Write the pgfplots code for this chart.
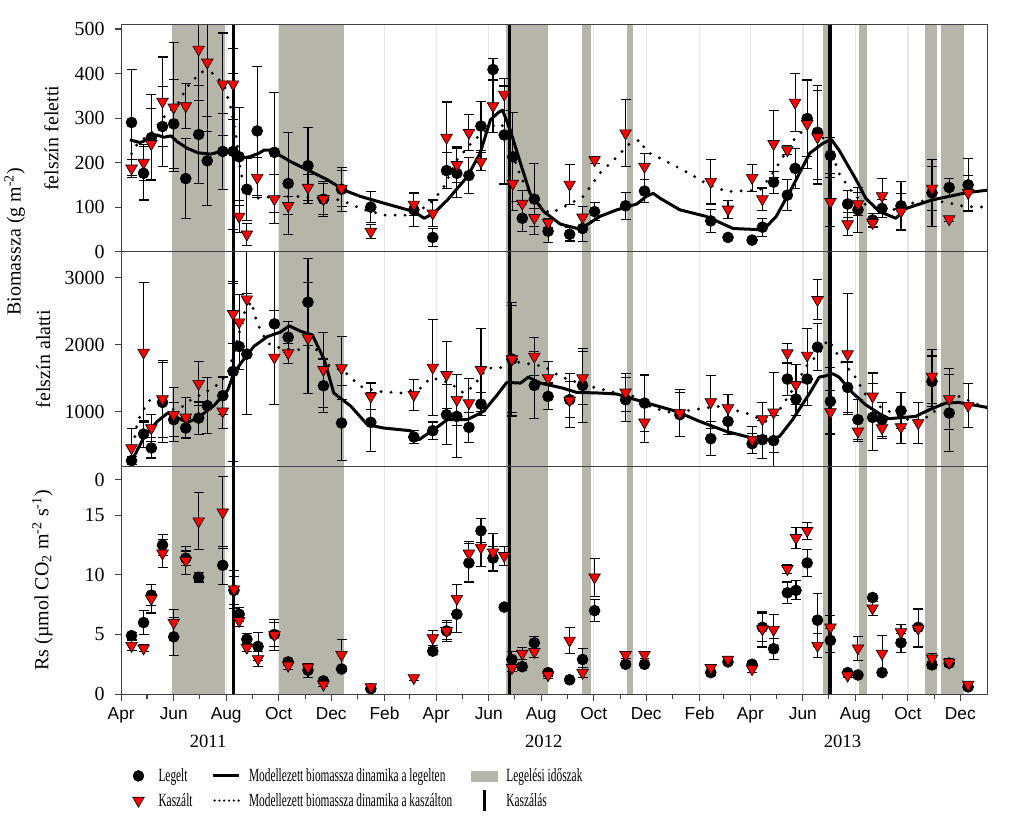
\documentclass[border=0pt]{standalone}
\usepackage{fontspec}
\setmainfont{Liberation Serif}
\newfontfamily\arialf{Liberation Sans}
\newfontfamily\legfont[FakeStretch=0.61]{Liberation Serif}
\usepackage{pgfplots}
\usepackage{pgfplotstable}
\pgfplotsset{compat=1.18}
\definecolor{graze}{RGB}{181,181,170}

\pgfplotsset{
  /pgfplots/layers/mylayers/.define layer set={
    axis background,axis grid,main,axis ticks,axis lines,axis tick labels,
    axis descriptions,axis foreground
  }{/pgfplots/layers/standard},
}
\tikzset{sidelab/.style={rotate=90, anchor=center, font=\fontsize{15}{17}\selectfont}}

% ---------------- data ----------------
% day = days since 1 April 2011
\pgfplotstableread{
d   L    Le   K    Ke
12  290  120  187  20
26  176  60   200  40
35  256  97   242  80
48  281  90   337  100
61  287  100  324  145
75  164  90   327  50
90  263  110  454  115
100 204  100  425  155
118 225  85   376  115
130 225  175  376  80
137 213  110  79   35
146 140  70   39   25
158 271  145  166  45
178 223  135  118  55
194 153  115  103  20
217 193  85   144  30
235 118  40   118  35
256 140  50   142  40
290 100  35   45   15
340 94   38   106  25
362 32   20   86   30
378 182  40   256  80
390 176  55   195  40
404 171  40   267  40
418 282  55   202  20
432 409  25   327  60
445 262  110  353  35
455 213  100  153  60
466 75   30   108  30
480 118  80   76   20
496 46   25   65   10
521 39   15   151  45
536 52   30   77   25
550 90   20   206  8
586 103  30   266  75
608 136  25   191  30
685 69   25   157  50
705 32   5    95   20
733 26   5    166  30
745 55   20   118  25
758 156  25   242  75
774 127  35   228  10
783 187  45   335  65
797 299  85   287  100
809 268  105  257  105
824 216  40   112  55
844 107  30   62   25
856 94   50   107  25
873 71   15   65   10
884 97   20   125  40
906 103  55   90   40
942 132  75   142  50
962 144  20   73   5
984 150  60   132  40
}\tabA

\pgfplotstableread{
d   L    Le   K    Ke
12  269  60   458  290
26  667  200  1886 1040
35  458  150  756  200
48  1139 600  1189 570
61  881  250  955  400
75  756  150  915  300
90  905  240  1418 330
100 1090 420  nan  nan
118 1239 280  1005 260
130 1602 1350 2463 450
137 1975 350  2338 420
146 1861 900  2682 850
178 2313 1200 1811 700
194 2114 230  1876 150
217 2637 650  2100 830
235 1388 400  1627 560
256 831  560  1652 470
290 841  440  1229 200
340 622  100  1254 230
362 716  130  1662 720
378 955  450  1552 500
390 930  620  1179 380
404 766  220  1129 370
418 1114 170  1627 620
454 1786 850  1786 800
480 1393 500  1826 280
496 1229 200  1502 250
521 1179 270  1169 400
536 1393 550  1502 400
586 1179 330  1289 280
608 1129 420  841  300
649 955  330  980  350
685 597  250  1144 400
705 856  200  1055 200
733 522  150  582  200
745 582  280  891  250
758 567  380  990  600
774 1488 250  1876 150
784 1189 250  1403 300
797 1488 400  1841 400
809 1965 350  2672 300
824 1154 500  995  320
844 1363 380  1861 900
856 881  300  706  150
873 915  500  1229 350
884 881  250  756  150
906 1015 270  771  250
926 nan  nan  831  300
942 1453 380  1527 400
962 980  580  1189 450
984 nan  nan  1090 330
}\tabB

\pgfplotstableread{
d   L    Le   K     Ke
12  4.9  0.3  4.06  0.4
26  6.0  1.0  3.84  0.3
35  8.3  0.9  8.0   1.2
48  12.5 0.9  11.8  1.2
61  4.8  1.6  6.0   1.1
75  11.4 0.6  11.2  1.2
90  9.8  0.4  14.5  2.4
118 10.8 1.6  15.25 3.0
131 8.7  1.2  8.8   1.6
137 6.7  0.6  6.15  0.5
146 4.6  0.5  3.9   0.3
159 4.0  1.2  2.95  0.6
178 5.0  1.0  4.95  1.3
194 2.7  0.3  2.4   0.3
217 2.0  0.6  2.25  0.3
235 1.1  0.2  0.8   0.2
256 2.1  0.2  3.3   1.3
290 0.45 0.2  0.6   0.2
340 nan  nan  1.35  0.2
362 3.6  0.3  4.7   0.6
378 5.3  0.7  5.3   0.9
390 6.7  1.5  8.0   1.2
404 11.0 1.6  11.8  1.0
418 13.7 1.0  12.3  1.6
432 11.4 1.0  11.9  1.6
445 7.3  0.2  11.6  0.8
454 2.9  0.7  2.2   0.3
466 2.3  0.3  3.4   0.5
480 4.3  0.5  3.55  0.5
496 1.8  0.3  1.6   0.3
521 1.2  0.1  4.5   1.1
536 2.9  0.9  1.8   0.4
550 7.0  0.9  9.8   1.6
586 2.5  0.2  3.3   0.3
608 2.5  0.2  3.3   0.3
685 1.8  0.2  2.2   0.3
705 2.7  0.2  2.9   0.2
733 2.5  0.2  2.1   0.3
745 5.6  1.2  5.45  1.5
758 3.8  0.9  5.4   1.3
774 8.5  0.9  10.5  0.4
784 8.7  0.8  13.1  0.9
797 11.0 1.1  13.7  0.7
809 6.2  2.2  4.06  1.0
824 4.5  1.0  5.6   1.0
844 1.8  0.2  1.56  0.2
856 1.6  0.2  3.84  1.0
873 8.1  0.2  7.2   0.6
884 1.8  0.2  3.4   1.5
906 4.3  0.8  5.2   0.6
926 5.6  1.6  5.5   1.6
942 2.45 0.3  3.0   0.4
962 2.6  0.2  2.65  0.3
984 0.6  0.2  0.8   0.2
}\tabC

% model lines
\pgfplotstableread{
d v
10 251
22 245
30 251
41 262
50 257
58 260
65 247
77 232
89 222
104 219
116 225
130 222
139 210
149 213
160 221
166 228
176 228
182 219
197 202
217 183
240 161
259 138
278 124
305 109
340 90
352 75
363 86
379 116
402 168
417 221
429 296
438 312
443 318
452 273
464 198
475 131
491 90
510 62
530 52
541 60
556 79
576 94
599 107
610 124
618 131
626 120
649 94
680 79
711 52
746 49
761 79
780 146
800 221
815 243
825 252
834 228
854 161
865 120
881 90
900 75
912 97
942 116
981 132
1006 138
}\modAs

\pgfplotstableread{
d v
12 220
19 243
35 266
50 303
66 333
77 371
93 404
108 400
120 371
127 326
133 266
139 176
147 131
158 120
181 124
208 124
231 120
255 116
278 97
305 82
332 82
348 94
363 116
375 146
390 206
410 251
425 273
437 288
445 281
452 236
464 168
479 116
498 86
517 103
537 124
556 176
576 213
591 243
603 251
610 225
630 206
653 183
680 153
703 135
742 138
757 176
769 213
784 258
800 284
810 269
823 236
834 176
850 131
865 105
885 94
904 95
923 112
942 116
962 109
981 101
1006 100
}\modAd

\pgfplotstableread{
d v
12 259
27 632
42 856
54 980
66 905
77 841
89 905
108 1095
124 1328
131 1577
139 1726
154 1975
170 2124
185 2189
195 2284
209 2199
222 2149
236 1776
247 1279
267 1080
286 806
305 756
336 716
346 582
363 731
379 881
402 881
421 1005
437 1254
448 1438
464 1428
473 1517
487 1428
513 1353
529 1289
556 1279
576 1264
607 1144
645 1005
672 856
703 706
733 607
753 582
765 632
780 881
800 1279
811 1517
819 1537
827 1567
834 1517
850 1279
865 1104
881 970
892 896
923 930
939 1030
958 1129
973 1139
1006 1065
}\modBs

\pgfplotstableread{
d v
12 333
19 856
31 1154
42 1229
58 1030
69 1055
81 1179
96 1279
112 1403
124 1577
131 1876
143 2473
151 2647
158 2323
170 2025
185 1950
209 1925
224 1975
240 1702
259 1602
278 1378
298 1304
325 1279
348 1353
359 1502
371 1478
382 1428
398 1279
409 1378
425 1652
440 1652
452 1751
464 1736
491 1677
510 1527
537 1403
568 1304
595 1229
618 1055
641 980
664 1030
695 1080
726 980
749 856
765 1030
780 1328
796 1677
811 1876
821 2075
827 1975
838 1726
850 1577
865 1254
881 1080
896 980
919 856
939 930
958 1179
973 1229
1006 1055
}\modBd

\newcommand{\grazing}[2]{%
  \addplot[forget plot, fill=graze, draw=none] coordinates {(58.8,#1) (120.7,#1) (120.7,#2) (58.8,#2)} -- cycle;
  \addplot[forget plot, fill=graze, draw=none] coordinates {(183.3,#1) (259,#1) (259,#2) (183.3,#2)} -- cycle;
  \addplot[forget plot, fill=graze, draw=none] coordinates {(446.7,#1) (495.5,#1) (495.5,#2) (446.7,#2)} -- cycle;
  \addplot[forget plot, fill=graze, draw=none] coordinates {(535,#1) (545.4,#1) (545.4,#2) (535,#2)} -- cycle;
  \addplot[forget plot, fill=graze, draw=none] coordinates {(588,#1) (594.5,#1) (594.5,#2) (588,#2)} -- cycle;
  \addplot[forget plot, fill=graze, draw=none] coordinates {(815.4,#1) (822.7,#1) (822.7,#2) (815.4,#2)} -- cycle;
  \addplot[forget plot, fill=graze, draw=none] coordinates {(856.7,#1) (867,#1) (867,#2) (856.7,#2)} -- cycle;
  \addplot[forget plot, fill=graze, draw=none] coordinates {(934,#1) (948.4,#1) (948.4,#2) (934,#2)} -- cycle;
  \addplot[forget plot, fill=graze, draw=none] coordinates {(952.7,#1) (979.4,#1) (979.4,#2) (952.7,#2)} -- cycle;
}
\newcommand{\mowing}[2]{%
  \addplot[forget plot, black, line width=2.3pt] coordinates {(130.8,#1) (130.8,#2)};
  \addplot[forget plot, black, line width=2.3pt] coordinates {(450.8,#1) (450.8,#2)};
  \addplot[forget plot, black, line width=2.3pt] coordinates {(823.5,#1) (823.5,#2)};
}

\pgfplotsset{
  panel/.style={
    set layers=mylayers,
    scale only axis, width=650.25pt,
    xmin=0, xmax=1006, clip mode=individual,
    axis line style={black!75, line width=0.8pt},
    tick style={black!75, line width=0.8pt},
    tick align=outside, ytick pos=left, xtick pos=bottom,
    major tick length=5pt, minor tick length=4pt,
    xtick={0,61,122,183,244,306,366,427,488,549,610,672,731,792,853,914,975},
    xmajorgrids, major grid style={black!9, line width=1pt},
    /pgf/number format/assume math mode=true,
    /pgf/number format/1000 sep={},
    yticklabel style={font=\fontsize{15}{17}\selectfont, xshift=-4pt},
  },
  legpt/.style={forget plot, only marks, mark=*, mark size=4.1pt, black,
    mark options={fill=black, draw=black, line width=0.5pt},
    error bars/.cd, y dir=both, y explicit,
    error bar style={line width=0.8pt, black},
    error mark options={rotate=90, mark size=3.75pt, line width=0.8pt, black}},
  kaspt/.style={forget plot, only marks, mark=triangle*, mark size=5pt, black,
    mark options={rotate=180, fill=red, draw=black, line width=0.5pt},
    error bars/.cd, y dir=both, y explicit,
    error bar style={line width=0.8pt, black},
    error mark options={rotate=90, mark size=3.75pt, line width=0.8pt, black}},
  mods/.style={forget plot, no marks, black, line width=2.25pt, line join=round},
  modd/.style={forget plot, no marks, black, line width=2.4pt, line cap=round, dash pattern=on 0pt off 7.5pt},
}

\begin{document}
\begin{tikzpicture}

% ---------- panel 1 ----------
\begin{axis}[panel,
  at={(90pt,-18.75pt)}, anchor=north west, height=170.25pt,
  ymin=0, ymax=509, ytick={0,100,200,300,400,500},
  xticklabels={}, every major x tick/.append style={draw=none},
]
\grazing{-20}{600}
\mowing{-20}{600}
\addplot[mods] table[x=d,y=v] {\modAs};
\addplot[modd] table[x=d,y=v] {\modAd};
\addplot[legpt] table[x=d,y=L,y error=Le] {\tabA};
\addplot[kaspt] table[x=d,y=K,y error=Ke] {\tabA};
\node[sidelab] at (axis description cs:-0.0807,0.5) {felszín feletti};
\node[sidelab] at (axis description cs:-0.123,0.044) {Biomassza (g m\textsuperscript{-2})};
\end{axis}

% ---------- panel 2 ----------
\begin{axis}[panel,
  at={(90pt,-189pt)}, anchor=north west, height=161.25pt,
  ymin=183, ymax=3392, ytick={1000,2000,3000},
  xticklabels={}, every major x tick/.append style={draw=none},
]
\grazing{0}{3600}
\mowing{0}{3600}
\addplot[mods] table[x=d,y=v] {\modBs};
\addplot[modd] table[x=d,y=v] {\modBd};
\addplot[legpt] table[x=d,y=L,y error=Le] {\tabB};
\addplot[kaspt] table[x=d,y=K,y error=Ke] {\tabB};
\node[sidelab] at (axis description cs:-0.090,0.5) {felszín alatti};
\end{axis}

% ---------- panel 3 ----------
\begin{axis}[panel,
  at={(90pt,-350.25pt)}, anchor=north west, height=171pt,
  ymin=0, ymax=19.1, ytick={0,5,10,15},
  extra y ticks={18}, extra y tick labels={0}, extra y tick style={grid=none},
  minor xtick={30,91,153,214,275,335,396,457,519,580,641,700,761,822,884,945},
  xticklabels={Apr,Jun,Aug,Oct,Dec,Feb,Apr,Jun,Aug,Oct,Dec,Feb,Apr,Jun,Aug,Oct,Dec},
  xticklabel style={font=\arialf\fontsize{13}{15}\selectfont, yshift=-1.5pt},
  legend columns=3,
  legend cell align=left,
  legend style={draw=none, fill=none, at={(axis description cs:0.008,-0.302)}, anchor=north west,
    font=\legfont\fontsize{14}{16}\selectfont, row sep=2pt,
    /tikz/every odd column/.append style={column sep=4.5pt},
    /tikz/every even column/.append style={column sep=12pt}},
]
\grazing{-1}{20}
\mowing{-1}{20}
\addplot[legpt] table[x=d,y=L,y error=Le] {\tabC};
\addplot[kaspt] table[x=d,y=K,y error=Ke] {\tabC};
\node[sidelab] at (axis description cs:-0.091,0.5) {Rs (µmol CO\textsubscript{2} m\textsuperscript{-2} s\textsuperscript{-1})};
\node[font=\fontsize{14}{16}\selectfont, yshift=-35.25pt] at (axis cs:101,0) {2011};
\node[font=\fontsize{14}{16}\selectfont, yshift=-35.25pt] at (axis cs:491,0) {2012};
\node[font=\fontsize{14}{16}\selectfont, yshift=-35.25pt] at (axis cs:838,0) {2013};

\addlegendimage{legend image code/.code={\path[draw=none, fill=none] (0.15cm,-0.1cm) rectangle (0.6cm,0.1cm); \fill[black] (0.3cm,0cm) circle (4.1pt);}}
\addlegendimage{legend image code/.code={\draw[black, line width=2.25pt] (0cm,0cm) -- (0.69cm,0cm);}}
\addlegendimage{legend image code/.code={\fill[graze] (0cm,-0.13cm) rectangle (0.69cm,0.13cm);}}
\addlegendimage{legend image code/.code={\path[draw=none, fill=none] (0.15cm,-0.1cm) rectangle (0.6cm,0.1cm); \filldraw[fill=red, draw=black, line width=0.5pt] (0.3cm,-5pt) -- ([xshift=4.33pt]0.3cm,2.5pt) -- ([xshift=-4.33pt]0.3cm,2.5pt) -- cycle;}}
\addlegendimage{legend image code/.code={\draw[black, line width=1.8pt, line cap=round, dash pattern=on 0pt off 3.6pt] (0.05cm,0cm) -- (0.69cm,0cm);}}
\addlegendimage{legend image code/.code={\draw[black, line width=2.4pt] (0.345cm,-0.27cm) -- (0.345cm,0.27cm);}}
\legend{Legelt, Modellezett biomassza dinamika a legelten, Legelési időszak, Kaszált, Modellezett biomassza dinamika a kaszálton, Kaszálás}
\end{axis}

\path (0,0) rectangle (768pt,-625.5pt);
\end{tikzpicture}
\end{document}
